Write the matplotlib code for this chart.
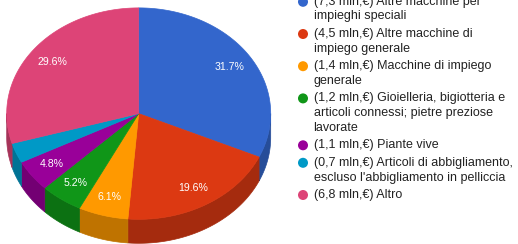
import numpy as np
import matplotlib
matplotlib.use("Agg")
import matplotlib.pyplot as plt
from matplotlib.patches import Polygon, Circle
import matplotlib.colors as mcolors

# ---- data ----
values = [7.3, 4.5, 1.4, 1.2, 1.1, 0.7, 6.8]
names = [
    "Altre macchine per\nimpieghi speciali",
    "Altre macchine di\nimpiego generale",
    "Macchine di impiego\ngenerale",
    "Gioielleria, bigiotteria e\narticoli connessi; pietre preziose\nlavorate",
    "Piante vive",
    "Articoli di abbigliamento,\nescluso l'abbigliamento in pelliccia",
    "Altro",
]
colors = ["#3366cc", "#dc3912", "#ff9900", "#109618", "#990099", "#0099c6", "#dd4477"]

plt.rcParams['font.family'] = ['Liberation Sans', 'DejaVu Sans']

W, H = 518, 244
fig = plt.figure(figsize=(W / 100, H / 100), dpi=100)
ax = fig.add_axes([0, 0, 1, 1])
ax.set_xlim(0, W)
ax.set_ylim(H, 0)
ax.axis('off')

# pie geometry (pixel space)
cx, cy, rx, ry, depth = 138.7, 113.6, 132.0, 105.7, 24.0

def pt(theta_deg, dy=0.0, k=1.0):
    t = np.radians(theta_deg)
    return cx + k * rx * np.sin(t), cy - k * ry * np.cos(t) + dy

def darker(c, f=0.75):
    r, g, b = mcolors.to_rgb(c)
    return (r * f, g * f, b * f)

total = sum(values)
fracs = [v / total for v in values]
starts = np.cumsum([0] + fracs[:-1]) * 360
ends = np.cumsum(fracs) * 360

# side walls (visible front half: 90..270 deg)
for a1, a2, c in zip(starts, ends, colors):
    s, e = max(a1, 90), min(a2, 270)
    if e <= s:
        continue
    th = np.linspace(s, e, 80)
    top = [pt(t) for t in th]
    bot = [pt(t, depth) for t in th[::-1]]
    ax.add_patch(Polygon(top + bot, closed=True, facecolor=darker(c),
                         edgecolor=darker(c), lw=0.5))

# top faces
for a1, a2, c in zip(starts, ends, colors):
    th = np.linspace(a1, a2, 150)
    poly = [(cx, cy)] + [pt(t) for t in th]
    ax.add_patch(Polygon(poly, closed=True, facecolor=c, edgecolor=c, lw=0.5))

# percentage labels
for a1, a2, f in zip(starts, ends, fracs):
    if f < 0.04:
        continue
    x, y = pt((a1 + a2) / 2, k=0.815)
    ax.text(x, y, f"{f * 100:.1f}%", color="white", fontsize=7.6,
            ha='center', va='center')

# legend
lx_c, lx_t = 303.0, 313.5
y = 1.8
line_h, gap = 14.7, 17.5
for v, n, c in zip(values, names, colors):
    ax.add_patch(Circle((lx_c, y), 5.0, facecolor=c, edgecolor='none'))
    lines = n.split("\n")
    label = f"({v:.1f} mln.€) ".replace('.', ',') + lines[0]
    all_lines = [label] + lines[1:]
    for i, ln in enumerate(all_lines):
        ax.text(lx_t, y + i * line_h, ln, color="#222222", fontsize=9.0,
                ha='left', va='center')
    y += (len(all_lines) - 1) * line_h + gap

fig.savefig("out.png", dpi=100)
